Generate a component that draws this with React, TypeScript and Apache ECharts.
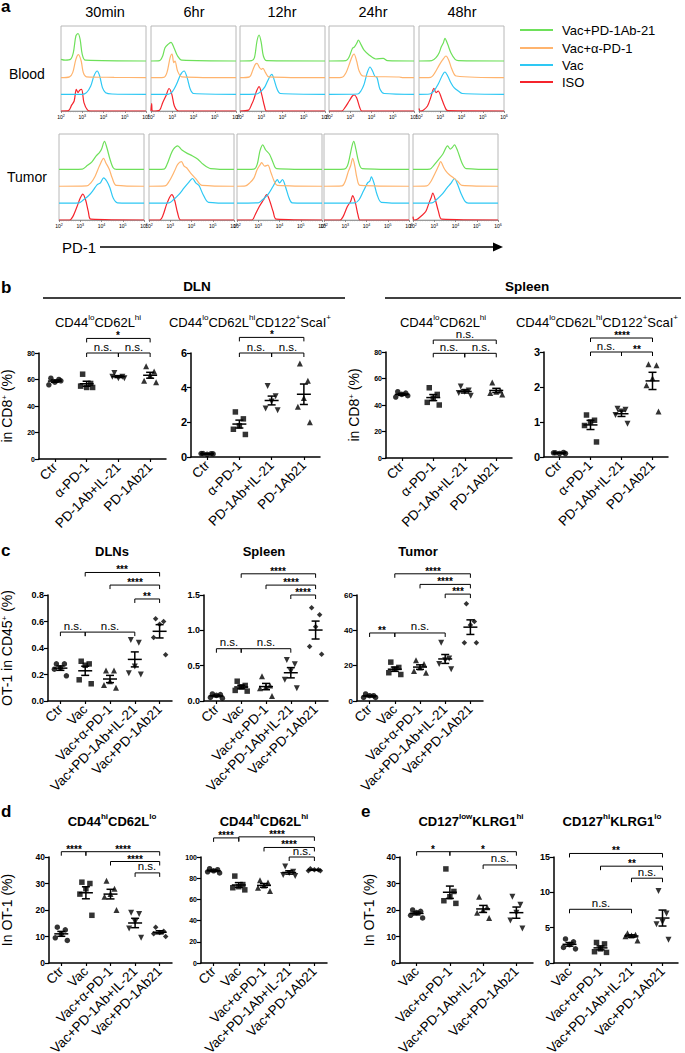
import React, { useEffect, useRef } from 'react';
import * as echarts from 'echarts';

const FONT = 'Liberation Sans, Arial, Helvetica, sans-serif';

// ---------------- Panel a: PD-1 histograms ----------------
const TIMES = ['30min', '6hr', '12hr', '24hr', '48hr'];
const TISSUES = ['Blood', 'Tumor'];
const DECADES = [2, 3, 4, 5, 6];
const LEGEND_NAMES = ['Vac+PD-1Ab-21', 'Vac+α-PD-1', 'Vac', 'ISO'];
// order of curves bottom->top: ISO, Vac, Vac+α-PD-1, Vac+PD-1Ab-21
const CURVE_COLORS = ['#F5242C', '#2EC8F4', '#FFB46E', '#6EE05A'];

// each curve: [log10 PD-1, relative count]; one curve per time point
const BLOOD_ISO = [
  [[2, 0], [2.35, 0.02], [2.5, 0.35], [2.62, 0.6], [2.72, 1.3], [2.8, 1.1], [2.88, 1.25], [2.97, 1.3], [3.08, 0.5], [3.25, 0.05], [3.4, 0], [6, 0]],
  [[2, 0], [2.03, 0.45], [2.08, 0], [2.4, 0.05], [2.55, 0.5], [2.7, 0.9], [2.85, 1.35], [2.98, 1.0], [3.1, 0.3], [3.3, 0], [6, 0]],
  [[2, 0], [2.4, 0.05], [2.55, 0.4], [2.65, 0.7], [2.78, 1.2], [2.9, 1.46], [3.02, 1.0], [3.15, 0.3], [3.25, 0], [6, 0]],
  [[2, 0], [2.6, 0], [2.75, 0.2], [2.95, 0.6], [3.1, 0.9], [3.18, 0.96], [3.3, 0.8], [3.45, 0.2], [3.55, 0], [6, 0]],
  [[2, 0.15], [2.06, 0], [2.2, 0.05], [2.4, 0.3], [2.55, 0.8], [2.7, 1.36], [2.8, 1.1], [2.9, 1.2], [3.05, 0.8], [3.2, 0.3], [3.35, 0.02], [6, 0]],
];
const BLOOD_VAC = [
  [[2, 0], [3.0, 0], [3.2, 0.1], [3.4, 0.5], [3.55, 1.1], [3.7, 1.4], [3.82, 1.1], [3.95, 0.4], [4.1, 0.1], [4.4, 0.02], [6, 0]],
  [[2, 0], [2.8, 0], [3.0, 0.15], [3.2, 0.6], [3.4, 1.2], [3.56, 1.4], [3.7, 1.0], [3.85, 0.3], [4.0, 0.05], [6, 0]],
  [[2, 0], [2.8, 0.02], [3.0, 0.2], [3.17, 0.45], [3.3, 0.8], [3.42, 1.1], [3.5, 1.2], [3.6, 0.9], [3.75, 0.3], [3.9, 0.05], [6, 0]],
  [[2, 0], [3.35, 0.02], [3.5, 0.2], [3.65, 0.6], [3.8, 1.3], [3.93, 1.64], [4.05, 1.4], [4.15, 1.1], [4.26, 1.0], [4.4, 0.3], [4.6, 0.05], [6, 0]],
  [[2, 0], [2.5, 0.02], [2.7, 0.2], [2.9, 0.6], [3.1, 1.15], [3.22, 1.34], [3.35, 1.1], [3.5, 0.7], [3.65, 0.4], [3.85, 0.2], [4.05, 0.05], [6, 0]],
];
const BLOOD_APD1 = [
  [[2, 0], [2.4, 0.05], [2.55, 0.3], [2.7, 1.1], [2.82, 1.38], [2.95, 1.0], [3.05, 0.3], [3.2, 0.05], [4.5, 0.02], [6, 0]],
  [[2, 0], [2.6, 0.02], [2.75, 0.3], [2.9, 1.2], [2.99, 1.42], [3.07, 0.9], [3.13, 1.0], [3.25, 0.4], [3.45, 0.05], [6, 0]],
  [[2, 0], [2.45, 0.05], [2.6, 0.45], [2.72, 0.8], [2.8, 0.86], [2.92, 0.6], [3.0, 0.5], [3.08, 0.56], [3.2, 0.3], [3.35, 0.05], [6, 0]],
  [[2, 0], [2.6, 0.02], [2.8, 0.3], [2.98, 0.9], [3.1, 1.3], [3.18, 1.42], [3.3, 1.0], [3.42, 0.4], [3.6, 0.1], [5.3, 0.04], [5.5, 0], [6, 0]],
  [[2, 0], [2.55, 0.02], [2.75, 0.3], [2.95, 0.75], [3.1, 1.05], [3.27, 1.3], [3.4, 1.05], [3.55, 0.5], [3.75, 0.1], [6, 0]],
];
const BLOOD_PD1AB21 = [
  [[2, 0.1], [2.2, 0.05], [2.45, 0.1], [2.58, 0.5], [2.7, 1.5], [2.8, 1.65], [2.9, 1.3], [3.0, 0.4], [3.15, 0.05], [6, 0]],
  [[2, 0], [2.4, 0.02], [2.55, 0.3], [2.66, 0.8], [2.8, 1.0], [2.94, 1.12], [3.08, 0.8], [3.25, 0.3], [3.45, 0.05], [6, 0]],
  [[2, 0], [2.55, 0.02], [2.68, 0.2], [2.8, 1.2], [2.9, 1.56], [3.0, 1.1], [3.1, 0.3], [3.25, 0.02], [6, 0]],
  [[2, 0], [2.8, 0.02], [2.95, 0.25], [3.1, 0.75], [3.2, 0.85], [3.32, 1.1], [3.38, 1.26], [3.5, 1.0], [3.65, 0.65], [3.9, 0.35], [4.2, 0.12], [4.55, 0.16], [4.75, 0.02], [6, 0]],
  [[2, 0], [2.6, 0.02], [2.8, 0.2], [2.95, 0.5], [3.05, 0.85], [3.15, 1.1], [3.22, 1.36], [3.35, 1.0], [3.5, 0.5], [3.7, 0.1], [3.85, 0.02], [6, 0]],
];
const TUMOR_ISO = [
  [[2, 0], [2.5, 0], [2.65, 0.2], [2.85, 0.8], [3.0, 1.3], [3.12, 1.54], [3.25, 1.2], [3.38, 0.5], [3.5, 0.05], [6, 0]],
  [[2, 0], [2.5, 0], [2.65, 0.25], [2.85, 1.0], [3.07, 1.5], [3.2, 1.2], [3.35, 0.4], [3.5, 0], [6, 0]],
  [[2, 0], [2.7, 0], [2.85, 0.3], [3.05, 0.8], [3.25, 1.2], [3.4, 1.5], [3.55, 1.1], [3.7, 0.5], [3.85, 0.05], [6, 0]],
  [[2, 0], [2.75, 0], [2.9, 0.2], [3.1, 0.8], [3.25, 1.1], [3.35, 1.44], [3.48, 1.0], [3.6, 0.3], [3.7, 0], [6, 0]],
  [[2, 0.2], [2.05, 0], [2.2, 0.05], [2.4, 0.25], [2.6, 0.5], [2.75, 1.0], [2.85, 1.3], [2.93, 1.6], [3.05, 1.2], [3.2, 0.5], [3.35, 0.05], [6, 0]],
];
const TUMOR_VAC = [
  [[2, 0], [2.95, 0.02], [3.15, 0.2], [3.4, 0.45], [3.6, 0.75], [3.8, 1.1], [3.95, 1.2], [4.1, 1.5], [4.25, 1.3], [4.4, 0.9], [4.55, 0.3], [4.75, 0.02], [6, 0]],
  [[2, 0], [2.95, 0.02], [3.15, 0.2], [3.4, 0.5], [3.65, 0.9], [3.85, 1.2], [4.05, 1.46], [4.2, 1.2], [4.35, 1.05], [4.55, 0.5], [4.8, 0.05], [6, 0]],
  [[2, 0], [3.0, 0.02], [3.2, 0.2], [3.45, 0.5], [3.7, 1.0], [3.9, 1.4], [4.0, 1.2], [4.14, 1.4], [4.3, 0.9], [4.45, 0.3], [4.6, 0.02], [6, 0]],
  [[2, 0], [3.45, 0.02], [3.65, 0.2], [3.85, 0.7], [4.05, 1.2], [4.15, 1.3], [4.23, 1.56], [4.35, 1.2], [4.5, 0.5], [4.7, 0.05], [6, 0]],
  [[2, 0], [2.9, 0.02], [3.1, 0.2], [3.35, 0.5], [3.6, 0.9], [3.8, 1.2], [3.95, 1.46], [4.1, 1.1], [4.25, 0.6], [4.45, 0.1], [4.6, 0], [6, 0]],
];
const TUMOR_APD1 = [
  [[2, 0], [3.3, 0.02], [3.5, 0.2], [3.7, 0.6], [3.9, 1.2], [4.1, 1.66], [4.2, 1.4], [4.37, 1.0], [4.5, 0.5], [4.7, 0.05], [6, 0]],
  [[2, 0], [2.75, 0.02], [2.95, 0.3], [3.2, 0.9], [3.35, 1.3], [3.53, 1.46], [3.65, 1.2], [3.77, 1.1], [3.95, 0.8], [4.2, 0.45], [4.5, 0.05], [6, 0]],
  [[2, 0], [2.4, 0.02], [2.6, 0.2], [2.8, 0.5], [2.95, 1.0], [3.1, 1.3], [3.16, 1.4], [3.3, 1.2], [3.45, 1.25], [3.6, 0.8], [3.75, 0.3], [3.9, 0.05], [6, 0]],
  [[2, 0], [2.85, 0.02], [3.0, 0.3], [3.15, 0.9], [3.25, 1.2], [3.35, 1.66], [3.45, 1.2], [3.55, 0.5], [3.7, 0.05], [6, 0]],
  [[2, 0], [2.65, 0.02], [2.85, 0.3], [3.05, 0.8], [3.2, 1.2], [3.3, 1.46], [3.45, 1.1], [3.55, 0.9], [3.7, 0.7], [3.9, 0.5], [4.1, 0.3], [4.3, 0.05], [6, 0]],
];
const TUMOR_PD1AB21 = [
  [[2, 0], [3.1, 0.02], [3.3, 0.2], [3.55, 0.45], [3.75, 0.8], [3.9, 1.0], [4.0, 1.2], [4.14, 1.66], [4.25, 1.3], [4.4, 0.6], [4.55, 0.1], [4.7, 0], [6, 0]],
  [[2, 0], [2.7, 0.02], [2.85, 0.3], [3.0, 0.8], [3.15, 1.2], [3.35, 1.4], [3.55, 1.15], [3.8, 0.95], [4.05, 0.8], [4.3, 0.6], [4.55, 0.3], [4.9, 0.05], [6, 0]],
  [[2, 0], [2.8, 0.02], [2.95, 0.3], [3.08, 1.1], [3.21, 1.46], [3.35, 1.15], [3.53, 0.9], [3.7, 0.4], [3.86, 0.05], [6, 0]],
  [[2, 0], [2.95, 0.02], [3.1, 0.2], [3.22, 0.8], [3.32, 1.4], [3.4, 1.66], [3.5, 1.2], [3.62, 0.5], [3.8, 0.05], [6, 0]],
  [[2, 0], [2.8, 0.02], [2.95, 0.2], [3.15, 0.5], [3.4, 0.9], [3.63, 1.4], [3.75, 1.2], [3.85, 1.3], [3.95, 1.46], [4.1, 1.1], [4.3, 0.4], [4.5, 0.05], [6, 0]],
];

// ---------------- Panel b ----------------
const B_GROUPS = ['Ctr', 'α-PD-1', 'PD-1Ab+IL-21', 'PD-1Ab21'];
const B_DLN_NAIVE = [[61, 60, 58, 56, 59], [64, 57, 54, 55, 54], [65, 62, 61, 62, 61], [70, 66, 63, 59, 58]];
const B_DLN_MEM = [[0.2, 0.19, 0.15, 0.2, 0.18], [2.6, 2.2, 1.8, 1.6, 1.3], [4.1, 3.5, 3.2, 2.8, 2.7], [5.4, 4.4, 3.4, 2.9, 2.0]];
const B_SPL_NAIVE = [[50, 49, 48, 46, 47], [53, 48, 45, 42, 40], [54, 51, 50, 49, 47], [57, 51, 50, 49, 48]];
const B_SPL_MEM = [[0.12, 0.13, 0.1, 0.12, 0.1], [1.2, 1.05, 1.0, 0.9, 0.43], [1.38, 1.35, 1.3, 1.2, 0.95], [2.65, 2.62, 2.25, 2.05, 1.3]];
const B_DLN_NAIVE_SIG = [[1, 3, 91], [1, 2, 80], [2, 3, 80]];
const B_DLN_NAIVE_LBL = ['*', 'n.s.', 'n.s.'];
const B_DLN_MEM_SIG = [[1, 3, 6.9], [1, 2, 6.0], [2, 3, 6.0]];
const B_DLN_MEM_LBL = ['*', 'n.s.', 'n.s.'];
const B_SPL_NAIVE_SIG = [[1, 3, 89], [1, 2, 79], [2, 3, 79]];
const B_SPL_NAIVE_LBL = ['n.s.', 'n.s.', 'n.s.'];
const B_SPL_MEM_SIG = [[1, 3, 3.4], [1, 2, 3.0], [2, 3, 3.0]];
const B_SPL_MEM_LBL = ['****', 'n.s.', '**'];

// ---------------- Panel c ----------------
const C_GROUPS = ['Ctr', 'Vac', 'Vac+α-PD-1', 'Vac+PD-1Ab+IL-21', 'Vac+PD-1Ab21'];
const C_DLN = [[0.28, 0.28, 0.25, 0.24, 0.19], [0.3, 0.28, 0.27, 0.16, 0.13], [0.23, 0.23, 0.15, 0.12, 0.1], [0.46, 0.44, 0.26, 0.21, 0.2], [0.62, 0.6, 0.58, 0.48, 0.35]];
const C_SPL = [[0.1, 0.09, 0.08, 0.05, 0.04], [0.28, 0.22, 0.2, 0.15, 0.14], [0.35, 0.22, 0.2, 0.18, 0.07], [0.58, 0.52, 0.42, 0.3, 0.18], [1.32, 1.22, 1.05, 0.77, 0.66]];
const C_TUM = [[4, 3, 3, 2, 2], [22, 19, 18, 16, 15], [23, 21, 19, 17, 16], [33, 24, 23, 21, 18], [55, 45, 43, 33, 33]];
const C_DLN_SIG = [[0, 1, 0.52], [1, 3, 0.52], [3, 4, 0.77], [2, 4, 0.875], [1, 4, 0.97]];
const C_DLN_LBL = ['n.s.', 'n.s.', '**', '****', '***'];
const C_SPL_SIG = [[0, 1, 0.74], [1, 3, 0.74], [3, 4, 1.5], [2, 4, 1.64], [1, 4, 1.8]];
const C_SPL_LBL = ['n.s.', 'n.s.', '****', '****', '****'];
const C_TUM_SIG = [[0, 1, 38.5], [1, 3, 38.5], [3, 4, 60.5], [2, 4, 66], [1, 4, 72]];
const C_TUM_LBL = ['**', 'n.s.', '***', '****', '****'];

// ---------------- Panel d ----------------
const D_EFF = [[13.5, 12.5, 11, 9.5, 8.5], [30.5, 30, 28, 26, 18], [31, 28, 26, 25, 20], [19, 18.5, 15.5, 13, 9.5], [13.5, 12, 11.5, 11, 10]];
const D_CM = [[89, 88, 87, 86, 85], [82, 74, 72, 71, 69], [78, 76, 73, 71, 68], [91, 86, 85, 83, 82], [89, 88, 88, 87, 87]];
const D_EFF_SIG = [[0, 1, 42], [1, 4, 42], [2, 4, 38.3], [3, 4, 34]];
const D_EFF_LBL = ['****', '****', '****', 'n.s.'];
const D_CM_SIG = [[0, 1, 118], [1, 4, 119], [2, 4, 109], [3, 4, 100]];
const D_CM_LBL = ['****', '****', '****', 'n.s.'];

// ---------------- Panel e ----------------
const E_GROUPS = ['Vac', 'Vac+α-PD-1', 'Vac+PD-1Ab+IL-21', 'Vac+PD-1Ab21'];
const E_SLEC = [[20, 19.5, 19, 18, 17], [35.5, 27, 25, 23.5, 22.5], [25, 21, 20, 19, 17], [25, 22, 19, 16, 13]];
const E_MPEC = [[3.4, 3.0, 2.6, 2.2, 2.0], [2.9, 2.7, 2.0, 1.6, 1.5], [4.2, 4.0, 3.9, 3.8, 3.2], [10.2, 7, 5.8, 5.5, 3.3]];
const E_SLEC_SIG = [[0, 1, 42], [1, 3, 42], [2, 3, 37]];
const E_SLEC_LBL = ['*', '*', 'n.s.'];
const E_MPEC_SIG = [[0, 3, 15.5], [1, 3, 13.7], [2, 3, 12], [0, 2, 7.6]];
const E_MPEC_LBL = ['**', '**', 'n.s.', 'n.s.'];

// marker shapes: [symbol, rotation]
const SYM_B = [['circle', 0], ['rect', 0], ['triangle', 180], ['triangle', 0]];
const SYM_C = [['circle', 0], ['rect', 0], ['triangle', 0], ['triangle', 180], ['diamond', 0]];
const SYM_E = [['circle', 0], ['rect', 0], ['triangle', 0], ['triangle', 180]];
const JIT = [-4, 4, 0, -6, 6];

const SUP = { fontSize: 8, fontFamily: FONT, color: '#000', verticalAlign: 'top' };

function buildOption() {
  const grid: any[] = [];
  const xAxis: any[] = [];
  const yAxis: any[] = [];
  const series: any[] = [];
  const graphic: any[] = [];

  // ---- histograms ----
  const HIST = [
    [BLOOD_ISO, BLOOD_VAC, BLOOD_APD1, BLOOD_PD1AB21],
    [TUMOR_ISO, TUMOR_VAC, TUMOR_APD1, TUMOR_PD1AB21],
  ];
  const HL = [[61, 151, 240, 329, 419], [59, 149, 237, 324, 413]];
  const HT = [26, 134];
  const HH = [85, 86];
  for (let r = 0; r < 2; r++) {
    for (let c = 0; c < 5; c++) {
      const gi = grid.length;
      grid.push({ left: HL[r][c], top: HT[r], width: 85, height: HH[r], show: true, borderColor: '#b8b8b8', borderWidth: 1, backgroundColor: 'transparent', containLabel: false, outerBoundsMode: 'none' });
      xAxis.push({
        gridIndex: gi, type: 'value', min: DECADES[0], max: DECADES[DECADES.length - 1], interval: 1,
        axisLine: { show: true, lineStyle: { color: '#999', width: 1 } },
        axisTick: { show: true, length: 2, lineStyle: { color: '#777', width: 0.8 } },
        minorTick: { show: true, splitNumber: 9, length: 1.2, lineStyle: { color: '#999', width: 0.6 } },
        splitLine: { show: false }, minorSplitLine: { show: false },
        axisLabel: {
          margin: 3, hideOverlap: false, formatter: (v: number) => `{b|10}{s|${v}}`,
          rich: { b: { fontSize: 5, color: '#000', fontFamily: FONT }, s: { fontSize: 3.6, color: '#000', verticalAlign: 'top', fontFamily: FONT } },
        },
      });
      yAxis.push({ gridIndex: gi, type: 'value', min: 0, max: 5.1, show: false });
      for (let k = 0; k < 4; k++) {
        series.push({
          type: 'line', xAxisIndex: gi, yAxisIndex: gi, silent: true, showSymbol: false, smooth: 0.3,
          lineStyle: { width: 1.2, color: CURVE_COLORS[k] },
          data: HIST[r][k][c].map((p) => [p[0], p[1] + k]),
          z: 2 + k,
        });
      }
    }
  }

  // ---- dot plots ----
  const meanRender = (params: any, api: any) => {
    const c = api.value(0), m = api.value(1), s = api.value(2);
    const p = api.coord([c, m]);
    const pt = api.coord([c, m + s]);
    const pb = api.coord([c, m - s]);
    const st = { stroke: '#000', lineWidth: 1.5 };
    return {
      type: 'group', children: [
        { type: 'line', shape: { x1: p[0] - 7, y1: p[1], x2: p[0] + 7, y2: p[1] }, style: st },
        { type: 'line', shape: { x1: p[0], y1: pt[1], x2: p[0], y2: pb[1] }, style: st },
        { type: 'line', shape: { x1: p[0] - 4, y1: pt[1], x2: p[0] + 4, y2: pt[1] }, style: st },
        { type: 'line', shape: { x1: p[0] - 4, y1: pb[1], x2: p[0] + 4, y2: pb[1] }, style: st },
      ],
    };
  };
  const bracketRender = (labels: string[]) => (params: any, api: any) => {
    const a = api.value(0), b = api.value(1), y = api.value(2);
    const p1 = api.coord([a, y]);
    const p2 = api.coord([b, y]);
    const lbl = labels[params.dataIndex];
    const stars = lbl.indexOf('*') >= 0;
    return {
      type: 'group', children: [
        { type: 'polyline', shape: { points: [[p1[0], p1[1] + 4], [p1[0], p1[1]], [p2[0], p2[1]], [p2[0], p2[1] + 4]] }, style: { stroke: '#000', lineWidth: 1, fill: null } },
        {
          type: 'text', x: Math.round((p1[0] + p2[0]) / 2), y: Math.round(p1[1] + (stars ? 2 : -0.5)),
          style: {
            legacy: false, text: lbl, fill: '#000', stroke: null, lineWidth: 0,
            fontSize: stars ? 10 : 11.5, fontWeight: stars ? 'bold' : 'normal', fontFamily: FONT, align: 'center', verticalAlign: 'bottom',
          },
        },
      ],
    };
  };

  const addDot = (cfg: any) => {
    const gi = grid.length;
    grid.push({ left: cfg.left, top: cfg.top, width: cfg.width, height: cfg.height, containLabel: false, outerBoundsMode: 'none' });
    xAxis.push({
      gridIndex: gi, type: 'category', data: cfg.cats,
      axisLine: { show: true, lineStyle: { color: '#000', width: 1.5 } },
      axisTick: { show: true, alignWithLabel: true, length: 3, lineStyle: { color: '#000', width: 1.2 } },
      axisLabel: { rotate: 45, fontSize: 13.5, color: '#000', margin: 6, interval: 0, fontFamily: FONT },
      splitLine: { show: false },
    });
    yAxis.push({
      gridIndex: gi, type: 'value', min: 0, max: cfg.yMax, interval: cfg.yInt,
      axisLine: { show: true, lineStyle: { color: '#000', width: 1.5 } },
      axisTick: { show: true, length: 4, lineStyle: { color: '#000', width: 1.2 } },
      splitLine: { show: false },
      axisLabel: { fontSize: cfg.ySize, fontWeight: 'bold', color: '#000', margin: 4, fontFamily: FONT, formatter: cfg.fmt },
      name: cfg.yName || '', nameLocation: 'middle', nameGap: cfg.nameGap || 30, nameRotate: 90,
      nameTextStyle: { fontSize: 14, color: '#000', fontFamily: FONT, rich: { s: SUP } },
    });
    cfg.values.forEach((vals: number[], g: number) => {
      const [sym, rot] = cfg.syms[g];
      series.push({
        type: 'scatter', xAxisIndex: gi, yAxisIndex: gi, silent: true,
        symbol: sym, symbolRotate: rot, symbolSize: sym === 'triangle' ? 6 : 5.5,
        itemStyle: { color: '#000' }, z: 2,
        data: vals.map((v, i) => ({ value: [g, v], symbolOffset: [JIT[i], 0] })),
      });
    });
    const stats = cfg.values.map((vals: number[], g: number) => {
      const n = vals.length;
      const m = vals.reduce((a, b) => a + b, 0) / n;
      const sd = Math.sqrt(vals.reduce((a, b) => a + (b - m) * (b - m), 0) / (n - 1));
      return [g, m, sd / Math.sqrt(n)];
    });
    series.push({ type: 'custom', xAxisIndex: gi, yAxisIndex: gi, silent: true, clip: false, z: 3, itemStyle: { color: '#000' }, encode: { x: 0, y: 1 }, data: stats, renderItem: meanRender });
    series.push({ type: 'custom', xAxisIndex: gi, yAxisIndex: gi, silent: true, clip: false, z: 3, itemStyle: { color: '#000' }, encode: { x: [0, 1], y: 2 }, data: cfg.sig, renderItem: bracketRender(cfg.lbl) });
  };

  const fmt1 = (v: number) => v.toFixed(1);
  // panel b
  addDot({ left: 39, top: 353, width: 127, height: 106, cats: B_GROUPS, values: B_DLN_NAIVE, syms: SYM_B, yMax: 80, yInt: 20, ySize: 7, sig: B_DLN_NAIVE_SIG, lbl: B_DLN_NAIVE_LBL, yName: 'in CD8{s|+} (%)', nameGap: 25 });
  addDot({ left: 191, top: 353, width: 129, height: 104, cats: B_GROUPS, values: B_DLN_MEM, syms: SYM_B, yMax: 6, yInt: 2, ySize: 11, sig: B_DLN_MEM_SIG, lbl: B_DLN_MEM_LBL });
  addDot({ left: 386, top: 352, width: 126, height: 106, cats: B_GROUPS, values: B_SPL_NAIVE, syms: SYM_B, yMax: 80, yInt: 20, ySize: 7, sig: B_SPL_NAIVE_SIG, lbl: B_SPL_NAIVE_LBL, yName: 'in CD8{s|+} (%)', nameGap: 25 });
  addDot({ left: 544, top: 352, width: 124, height: 105, cats: B_GROUPS, values: B_SPL_MEM, syms: SYM_B, yMax: 3, yInt: 1, ySize: 11, sig: B_SPL_MEM_SIG, lbl: B_SPL_MEM_LBL });
  // panel c
  addDot({ left: 48, top: 595, width: 124, height: 106, cats: C_GROUPS, values: C_DLN, syms: SYM_C, yMax: 0.8, yInt: 0.2, ySize: 9, fmt: fmt1, sig: C_DLN_SIG, lbl: C_DLN_LBL, yName: 'OT-1 in CD45{s|+} (%)', nameGap: 34 });
  addDot({ left: 204, top: 595, width: 124, height: 106, cats: C_GROUPS, values: C_SPL, syms: SYM_C, yMax: 1.5, yInt: 0.5, ySize: 9, fmt: fmt1, sig: C_SPL_SIG, lbl: C_SPL_LBL });
  addDot({ left: 357, top: 595, width: 126, height: 106, cats: C_GROUPS, values: C_TUM, syms: SYM_C, yMax: 60, yInt: 20, ySize: 8, sig: C_TUM_SIG, lbl: C_TUM_LBL });
  // panel d
  addDot({ left: 49, top: 857, width: 123, height: 106, cats: C_GROUPS, values: D_EFF, syms: SYM_C, yMax: 40, yInt: 10, ySize: 8.5, sig: D_EFF_SIG, lbl: D_EFF_LBL, yName: 'In OT-1 (%)', nameGap: 35 });
  addDot({ left: 201, top: 857, width: 126, height: 106, cats: C_GROUPS, values: D_CM, syms: SYM_C, yMax: 100, yInt: 20, ySize: 7, sig: D_CM_SIG, lbl: D_CM_LBL });
  // panel e
  addDot({ left: 400, top: 857, width: 133, height: 106, cats: E_GROUPS, values: E_SLEC, syms: SYM_E, yMax: 40, yInt: 10, ySize: 8.5, sig: E_SLEC_SIG, lbl: E_SLEC_LBL, yName: 'In OT-1 (%)', nameGap: 24 });
  addDot({ left: 554, top: 857, width: 124, height: 106, cats: E_GROUPS, values: E_MPEC, syms: SYM_E, yMax: 15, yInt: 5, ySize: 9, sig: E_MPEC_SIG, lbl: E_MPEC_LBL });

  // ---- texts & decorations ----
  const T = (text: string, x: number, y: number, o: any = {}) => ({
    type: 'text', x, y, silent: true, z: 10,
    style: {
      text, fill: '#000', textFill: '#000', fontSize: o.size || 14, fontWeight: o.bold ? 'bold' : 'normal', fontFamily: FONT,
      align: o.align || 'left', verticalAlign: o.va || 'middle', textAlign: o.align || 'left', textVerticalAlign: o.va || 'middle',
      rich: o.rich,
    },
  });
  const L = (x1: number, y1: number, x2: number, y2: number, color = '#000', w = 1.5) => ({
    type: 'line', silent: true, z: 10, shape: { x1, y1, x2, y2 }, style: { stroke: color, lineWidth: w },
  });
  const richSub = (size: number, bold: boolean) => ({
    n: { fontSize: size, fontWeight: bold ? 'bold' : 'normal', fontFamily: FONT, fill: '#000', textFill: '#000', color: '#000', lineHeight: size + 4 },
    s: { fontSize: size * 0.62, fontWeight: bold ? 'bold' : 'normal', fontFamily: FONT, fill: '#000', textFill: '#000', color: '#000', verticalAlign: 'top', lineHeight: size + 4 },
  });

  // panel a
  graphic.push(T('a', 1, 6, { bold: true, size: 17 }));
  const timeX = [105, 194, 282, 373, 462];
  TIMES.forEach((t, i) => graphic.push(T(t, timeX[i], 12, { align: 'center', size: 14.5 })));
  graphic.push(T(TISSUES[0], 9, 74, { size: 14 }));
  graphic.push(T(TISSUES[1], 7, 177, { size: 14 }));
  const legY = [30, 48, 65, 82];
  LEGEND_NAMES.forEach((nm, i) => {
    graphic.push(L(520, legY[i], 553, legY[i], CURVE_COLORS[3 - i], 2));
    graphic.push(T(nm, 562, legY[i], { size: 13 }));
  });
  graphic.push(T('PD-1', 62, 247, { size: 15 }));
  graphic.push(L(100, 247, 496, 247, '#000', 1.5));
  graphic.push({ type: 'polygon', silent: true, z: 10, shape: { points: [[503, 247], [493, 242.5], [493, 251.5]] }, style: { fill: '#000' } });

  // panel b
  graphic.push(T('b', 1, 287, { bold: true, size: 17 }));
  graphic.push(T('DLN', 197, 286, { bold: true, size: 13.5, align: 'center' }));
  graphic.push(L(43, 298, 345, 298, '#000', 1.5));
  graphic.push(T('Spleen', 527, 286, { bold: true, size: 13.5, align: 'center' }));
  graphic.push(L(385, 298, 681, 298, '#000', 1.5));
  const rb = richSub(13, false);
  const naive = '{n|CD44}{s|lo}{n|CD62L}{s|hi}';
  const mem = '{n|CD44}{s|lo}{n|CD62L}{s|hi}{n|CD122}{s|+}{n|ScaI}{s|+}';
  graphic.push(T(naive, 98, 322, { align: 'center', rich: rb }));
  graphic.push(T(mem, 250, 322, { align: 'center', rich: rb }));
  graphic.push(T(naive, 443, 322, { align: 'center', rich: rb }));
  graphic.push(T(mem, 597, 322, { align: 'center', rich: rb }));

  // panel c
  graphic.push(T('c', 1, 550, { bold: true, size: 17 }));
  graphic.push(T('DLNs', 112, 551, { bold: true, size: 13, align: 'center' }));
  graphic.push(T('Spleen', 264, 551, { bold: true, size: 13, align: 'center' }));
  graphic.push(T('Tumor', 418, 551, { bold: true, size: 13, align: 'center' }));

  // panel d & e
  const rd = richSub(13, true);
  graphic.push(T('d', 1, 811, { bold: true, size: 17 }));
  graphic.push(T('{n|CD44}{s|hi}{n|CD62L}{s|lo}', 112, 821, { align: 'center', rich: rd }));
  graphic.push(T('{n|CD44}{s|hi}{n|CD62L}{s|hi}', 264, 821, { align: 'center', rich: rd }));
  graphic.push(T('e', 361, 811, { bold: true, size: 17 }));
  graphic.push(T('{n|CD127}{s|low}{n|KLRG1}{s|hi}', 471, 821, { align: 'center', rich: rd }));
  graphic.push(T('{n|CD127}{s|hi}{n|KLRG1}{s|lo}', 612, 821, { align: 'center', rich: rd }));

  return {
    animation: false,
    backgroundColor: '#fff',
    textStyle: { fontFamily: FONT },
    grid, xAxis, yAxis, series, graphic,
  };
}

export default function App() {
  const ref = useRef<HTMLDivElement>(null);
  useEffect(() => {
    document.body.style.margin = '0';
    const chart = echarts.init(ref.current as HTMLDivElement, null, { renderer: 'svg' });
    chart.setOption(buildOption() as any);
    return () => chart.dispose();
  }, []);
  return <div ref={ref} style={{ width: 685, height: 1053, background: '#fff' }} />;
}
